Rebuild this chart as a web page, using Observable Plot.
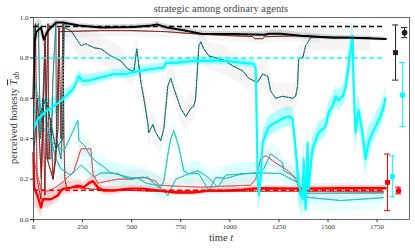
<!DOCTYPE html>
<html><head><meta charset="utf-8">
<script src="https://cdn.jsdelivr.net/npm/d3@7"></script>
<script src="https://cdn.jsdelivr.net/npm/@observablehq/plot@0.6"></script>
<style>body{margin:0;background:#fff} svg{display:block} svg text{font-family:"Liberation Serif","DejaVu Serif",serif}</style>
</head><body><div id="chart"></div>
<script>
// ---- data ----
const xTicks = [0, 250, 500, 750, 1000, 1250, 1500, 1750];
const yTicks = [0, 0.2, 0.4, 0.6, 0.8, 1.0];
const refV = [0.955, 0.8, 0.145];
const refColor = ["#000", "#00ffff", "#ff0000"];
const refEnd = 1793;

// mean black with band half-width
const blackT = [0,5,15,38,53,70,89,115,150,175,232,343,510,600,630,680,765,852,1020,1175,1200,1260,1361,1530,1615,1700,1795];
const blackV = [0.6,0.88,0.93,0.95,0.89,0.93,0.95,0.975,0.975,0.97,0.96,0.95,0.953,0.96,0.966,0.95,0.937,0.92,0.918,0.915,0.92,0.92,0.91,0.90,0.90,0.897,0.894];
const blackE = [0.15,0.08,0.05,0.04,0.04,0.03,0.02,0.015,0.012,0.012,0.012,0.012,0.012,0.012,0.015,0.015,0.015,0.012,0.012,0.015,0.018,0.018,0.015,0.012,0.01,0.01,0.01];

// mean cyan
const cyanT = [3,23,38,64,89,130,175,206,231,252,292,328,409,470,537,638,664,674,725,811,979,1066,1122,1132,1142,1148,1157,1167,1198,1233,1269,1300,1320,1335,1350,1371,1376,1386,1396,1401,1421,1452,1488,1503,1523,1539,1554,1574,1589,1605,1625,1630,1640,1655,1676,1691,1706,1727,1742,1767,1782,1793];
const cyanV = [0.45,0.5,0.51,0.54,0.55,0.58,0.62,0.65,0.71,0.686,0.69,0.70,0.72,0.72,0.736,0.75,0.752,0.775,0.775,0.785,0.785,0.775,0.77,0.75,0.2,0.12,0.2,0.38,0.46,0.48,0.5,0.51,0.50,0.35,0.18,0.10,0.3,0.05,0.38,0.15,0.35,0.43,0.46,0.53,0.56,0.61,0.59,0.61,0.65,0.76,0.91,0.68,0.43,0.54,0.43,0.30,0.38,0.43,0.46,0.51,0.55,0.6];
const cyanE = [0.12,0.1,0.08,0.06,0.05,0.04,0.035,0.03,0.03,0.03,0.03,0.025,0.025,0.025,0.025,0.025,0.025,0.02,0.02,0.02,0.02,0.02,0.02,0.03,0.06,0.08,0.08,0.06,0.05,0.05,0.05,0.05,0.05,0.08,0.1,0.1,0.1,0.08,0.1,0.1,0.06,0.05,0.05,0.05,0.05,0.05,0.05,0.05,0.06,0.08,0.08,0.1,0.1,0.08,0.08,0.08,0.08,0.06,0.06,0.06,0.06,0.06];

// mean red
const redT = [0,3,23,38,48,64,89,125,140,155,191,226,257,282,303,328,359,409,460,496,557,638,725,811,893,979,1066,1147,1361,1564,1793];
const redV = [0.33,0.16,0.11,0.06,0.10,0.10,0.10,0.12,0.143,0.153,0.158,0.167,0.16,0.18,0.19,0.158,0.143,0.143,0.15,0.153,0.153,0.143,0.133,0.133,0.143,0.143,0.148,0.155,0.153,0.155,0.155];
const redE = [0.15,0.1,0.06,0.05,0.05,0.04,0.035,0.03,0.03,0.03,0.03,0.03,0.025,0.025,0.025,0.02,0.02,0.02,0.015,0.015,0.015,0.012,0.012,0.012,0.012,0.012,0.012,0.012,0.012,0.012,0.012];

// individual trajectories
const aT = [3,64,114,150,155,191,242,267,308,343,394,445,480,511,526,547,562,582,587,608,623,648,664,684,699,715,750,776,801,816,826,842,852,867,893,928,979,1015,1066,1096,1122,1142,1167,1193,1208,1233,1269,1320,1335,1345,1350,1371,1386,1396,1411,1472,1717];
const aV = [0.45,0.6,0.35,0.4,0.95,0.935,0.86,0.87,0.85,0.845,0.81,0.785,0.746,0.73,0.845,0.68,0.6,0.48,0.43,0.47,0.43,0.39,0.45,0.66,0.70,0.65,0.55,0.51,0.55,0.56,0.6,0.86,0.88,0.845,0.81,0.8,0.785,0.76,0.736,0.70,0.686,0.68,0.72,0.71,0.637,0.6,0.61,0.6,0.61,0.66,0.795,0.80,0.86,0.874,0.9,0.905,0.9];
const bT = [0,20,40,60,70,100,125,130,343,496,674,776,1005,1116,1126,1167,1177,1361,1462];
const bV = [0.3,0.6,0.2,0.9,0.3,0.2,0.45,0.93,0.935,0.935,0.93,0.922,0.91,0.906,0.895,0.895,0.905,0.91,0.905];
const eT = [3,23,53,89,125,155,226,231,257,292,328,359,394,430,460,496,582,598,648,664,684,699,715,740,766,791,842,893,928,979,1066,1147,1172,1208,1243,1269,1274,1345,1350,1361,1411,1564,1782];
const eV = [0.55,0.5,0.45,0.39,0.36,0.34,0.49,0.39,0.37,0.31,0.28,0.26,0.23,0.225,0.21,0.2,0.21,0.19,0.158,0.19,0.32,0.40,0.44,0.36,0.24,0.227,0.227,0.143,0.208,0.203,0.227,0.232,0.25,0.325,0.30,0.28,0.242,0.202,0.158,0.118,0.108,0.094,0.108];
const fT = [0,38,64,114,140,191,242,308,343,394,430,480,531,572,623,664,684,725,776,837,888,939,979,1055,1157,1259,1350,1361,1564,1782];
const fV = [0.7,0.55,0.5,0.3,0.25,0.22,0.27,0.21,0.23,0.23,0.225,0.21,0.205,0.18,0.17,0.14,0.118,0.2,0.22,0.242,0.21,0.16,0.22,0.225,0.23,0.228,0.18,0.13,0.13,0.13];
const gT = [0,38,74,114,155,206,242,292,303,328,379,430,496,557,623,638,725,852,1106,1132,1157,1183,1233,1284,1320,1345,1361,1782];
const gV = [0.3,0.15,0.14,0.16,0.19,0.24,0.35,0.35,0.226,0.18,0.19,0.2,0.2,0.21,0.19,0.17,0.165,0.16,0.17,0.2,0.3,0.316,0.28,0.25,0.22,0.18,0.14,0.135];
const hT = [0,10,18,38,48,58,74,79,89,99,114,130,140,150,155,160,170,200,300,600,1000,1300,1782];
const hV = [0.5,0.97,0.2,0.1,0.6,0.12,0.97,0.3,0.5,0.2,0.3,0.95,0.4,0.97,0.4,0.2,0.15,0.16,0.15,0.14,0.14,0.14,0.14];
const iT = [0,5,25,35,48,58,69,89,99,114,117,140,150,155,170];
const iV = [0.3,0.95,0.97,0.4,0.6,0.88,0.3,0.3,0.7,0.97,0.4,0.3,0.5,0.97,0.96];

// end-of-run summary points with error bars
const errT = [1844, 1890, 1880, 1803, 1828, 1859];
const errV = [0.826, 0.925, 0.616, 0.184, 0.212, 0.142];
const errLo = [0.69, 0.90, 0.46, 0.044, 0.114, 0.127];
const errHi = [0.963, 0.95, 0.777, 0.324, 0.315, 0.16];
const errColor = ["#222", "#222", "#00ffff", "#ff0000", "#00ffff", "#ff0000"];
const errSymbol = ["square", "circle", "circle", "square", "square", "circle"];

// ---- build tables ----
const rows = (T, V, E) => T.map((t, i) => ({t, v: V[i], e: E ? E[i] : 0}));
const black = rows(blackT, blackV, blackE);
const cyan = rows(cyanT, cyanV, cyanE);
const red = rows(redT, redV, redE);
const A = rows(aT, aV), B = rows(bT, bV), E = rows(eT, eV), F = rows(fT, fV);
const G = rows(gT, gV), H = rows(hT, hV), I = rows(iT, iV);
const errs = errT.map((t, i) => ({t, v: errV[i], lo: errLo[i], hi: errHi[i], c: errColor[i], s: errSymbol[i]}));
const refs = refV.map((v, i) => ({v, c: refColor[i]}));

const band = (data, w, fill, op) => Plot.areaY(data, {x: "t", y1: d => Math.max(0, d.v - w), y2: d => Math.min(1, d.v + w), fill, fillOpacity: op});
const meanBand = (data, fill, op) => Plot.areaY(data, {x: "t", y1: d => Math.max(0, d.v - d.e), y2: d => Math.min(1, d.v + d.e), fill, fillOpacity: op});
const dotted = (data, base, dots, w = 0.9, dash = "1,1.6") => [
  Plot.line(data, {x: "t", y: "v", stroke: base, strokeWidth: w}),
  Plot.line(data, {x: "t", y: "v", stroke: dots, strokeWidth: w, strokeDasharray: dash})
];
const FONT = "Liberation Serif, DejaVu Serif, serif";

const plot = Plot.plot({
  width: 415, height: 249,
  marginLeft: 33, marginRight: 6, marginTop: 17, marginBottom: 30,
  style: {fontFamily: FONT, fontSize: "7px", background: "#fff", color: "#333"},
  x: {domain: [0, 1915]},
  y: {domain: [0, 1]},
  marks: [
    // faint trajectory bands
    band(A, 0.07, "#aaa", 0.12),
    band(B, 0.03, "#aaa", 0.1),
    band(E, 0.06, "#00ffff", 0.08),
    band(F, 0.05, "#00ffff", 0.07),
    band(G, 0.04, "#ff0000", 0.05),
    // mean bands
    meanBand(black, "#888", 0.3),
    meanBand(cyan, "#00ffff", 0.3),
    meanBand(red, "#ff4040", 0.22),
    // thin trajectories
    ...dotted(H, "#ff0000", "#222", 0.7),
    ...dotted(I, "#111", "#00c8c8", 0.7, "0.8,2.2"),
    ...dotted(G, "#c00000", "#ff8080", 0.8),
    ...dotted(F, "#1a6b6b", "#00ffff", 0.8),
    ...dotted(E, "#1a6b6b", "#00ffff", 0.8),
    ...dotted(B, "#111", "#ff2020", 0.9, "0.8,2"),
    ...dotted(A, "#111", "#00e0e0", 0.9, "0.8,2.4"),
    // reference dashed lines
    Plot.ruleY(refs, {y: "v", x1: 0, x2: refEnd, stroke: "c", strokeWidth: 1.5, strokeDasharray: "5,3"}),
    // mean lines
    Plot.line(red, {x: "t", y: "v", stroke: "#ff0000", strokeWidth: 2.4}),
    Plot.line(cyan, {x: "t", y: "v", stroke: "#00ffff", strokeWidth: 2.2}),
    Plot.line(black, {x: "t", y: "v", stroke: "#000", strokeWidth: 2}),
    // error bars
    Plot.ruleX(errs, {x: "t", y1: "lo", y2: "hi", stroke: "c", strokeWidth: 1}),
    Plot.ruleY(errs, {y: "lo", x1: d => d.t - 16, x2: d => d.t + 16, stroke: "c", strokeWidth: 1}),
    Plot.ruleY(errs, {y: "hi", x1: d => d.t - 16, x2: d => d.t + 16, stroke: "c", strokeWidth: 1}),
    Plot.dot(errs, {x: "t", y: "v", fill: "c", symbol: "s", r: 2.8}),
    // axes and frame
    Plot.frame({stroke: "#444", strokeWidth: 0.8}),
    Plot.axisX({ticks: xTicks, tickSize: 3, tickPadding: 2, tickFormat: d3.format("d"), label: null, fontFamily: FONT}),
    Plot.axisY({ticks: yTicks, tickSize: 3, tickPadding: 2, tickFormat: d3.format(".1f"), label: null, fontFamily: FONT})
  ]
});
document.getElementById("chart").append(plot);

// titles / axis labels as real text
const svg = d3.select(plot);
svg.append("text").attr("x", 221).attr("y", 12).attr("text-anchor", "middle")
  .attr("font-family", FONT).attr("font-size", 10.5).attr("fill", "#444")
  .text("strategic among ordinary agents");
const xl = svg.append("text").attr("x", 221).attr("y", 241).attr("text-anchor", "middle")
  .attr("font-family", FONT).attr("font-size", 10.5).attr("fill", "#333");
xl.append("tspan").text("time ");
xl.append("tspan").attr("font-style", "italic").text("t");
const yl = svg.append("text").attr("transform", "translate(17,118) rotate(-90)").attr("text-anchor", "middle")
  .attr("font-family", FONT).attr("font-size", 10.5).attr("fill", "#333");
yl.append("tspan").text("perceived honesty ");
yl.append("tspan").attr("font-style", "italic").attr("text-decoration", "overline").text("T");
yl.append("tspan").attr("font-style", "italic").attr("font-size", 7.5).attr("dy", 2).text("ab");
</script>
</body></html>
